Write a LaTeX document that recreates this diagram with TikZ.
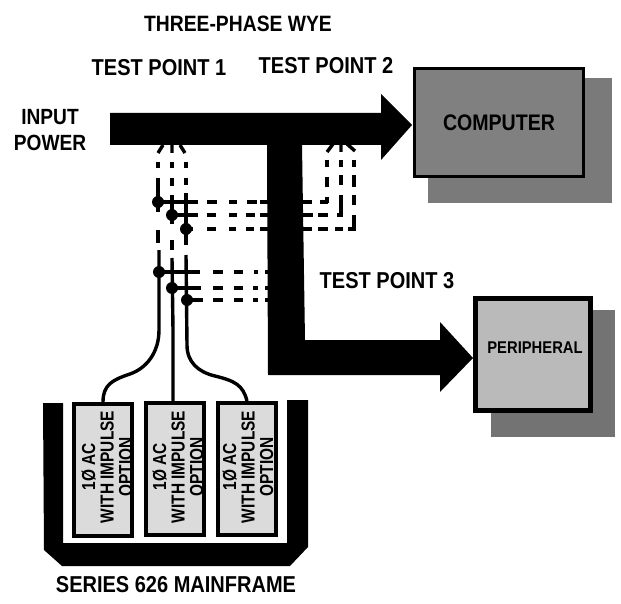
\documentclass[tikz,border=0pt]{standalone}
\usepackage{fontspec}
\setmainfont{Liberation Sans}
\newfontfamily\lblfont[FakeStretch=0.87]{Liberation Sans Bold}
\newfontfamily\modfont[FakeStretch=0.82]{Liberation Sans Bold}
\begin{document}
\begin{tikzpicture}[x=1pt,y=-1pt,
  lab/.style={font=\lblfont\fontsize{23}{23}\selectfont,inner sep=0pt,align=center},
  wire/.style={line width=3.4pt,black},
  junction/.style={circle,fill=black,inner sep=0pt,minimum size=12pt},
  module/.style={draw=black,line width=4pt,fill=black!14,minimum width=58pt,minimum height=132pt,inner sep=0pt},
  modtext/.style={rotate=90,font=\modfont\fontsize{18.8}{18.5}\selectfont,align=center,inner sep=0pt}]
\useasboundingbox (0,0) rectangle (621,604);
\fill[white] (0,0) rectangle (621,604);
% shadows
\fill[black!52] (428,78) rectangle (612,203);
\fill[black!55] (491,310) rectangle (615,437);
% boxes
\node[draw=black,line width=3.5pt,fill=black!50,minimum width=169pt,minimum height=108pt,inner sep=0pt,
  font=\lblfont\fontsize{22.5}{23}\selectfont] (computer) at (499,122.5) {COMPUTER};
\node[draw=black,line width=5pt,fill=black!27,minimum width=115pt,minimum height=112pt,inner sep=0pt] (periph) at (533,354.5) {};
\node[font=\lblfont\fontsize{17}{17}\selectfont,inner sep=0pt] (periphlab) at (535,348) {PERIPHERAL};
% block arrows
\fill[black] (110,113) -- (381,113) -- (381,94) -- (412,125) -- (381,160) -- (381,145) -- (302,145)
  -- (305,340) -- (440,340) -- (440,322) -- (473,358) -- (440,392) -- (440,375) -- (268,375) -- (267,145) -- (110,145) -- cycle;
% junctions
\coordinate (ja1) at (158,202); \coordinate (jb1) at (172,215); \coordinate (jc1) at (186,229);
\coordinate (ja2) at (159,272); \coordinate (jb2) at (172,288); \coordinate (jc2) at (187,300);
% fans into the main line
\draw[wire] (158,153) -- (163,145) (172,153) -- (172,145) (185,153) -- (180,145);
\draw[wire] (327,152) -- (333,144) (341,152) -- (341,144) (355,151) -- (347,144);
% broken verticals, test point 1
\foreach \x/\a/\b in {158/162/168,158/178/212,158/230/243,
                      172/162/168,172/178/186,172/195/224,172/240/250,
                      186/162/168,186/178/185,186/193/245,
                      327/160/167,327/177/187,327/197/203,
                      341/160/167,341/175/185,341/195/215,
                      354/160/167,354/175/187,354/195/205,354/215/230}
  {\draw[wire] (\x,\a) -- (\x,\b);}
% broken horizontals
\foreach \y/\a/\b in {202/158/198,202/207/217,202/229/237,202/247/257,202/260/268,
                      215/172/198,215/207/216,215/229/237,215/246/255,215/260/268,
                      229/186/193,229/207/216,229/229/236,229/246/254,229/260/268,
                      272/159/200,272/213/223,272/234/243,272/254/258,272/265/268,
                      288/172/201,288/213/223,288/234/243,288/253/258,288/265/268,
                      300/187/203,300/213/223,300/234/243,300/253/258,300/265/268,
                      202/302/312,202/320/328,
                      215/302/313,215/318/328,215/337/343,
                      229/302/312,229/318/328,229/335/343,229/348/356}
  {\draw[wire] (\a,\y) -- (\b,\y);}
% solid runs down to the modules
\node[module] (m1) at (103,470) {};
\node[module] (m2) at (175,469) {};
\node[module] (m3) at (247,469) {};
\draw[wire] (159,250) -- (159,330) .. controls (159,352) and (147,368) .. (130,374)
  .. controls (112,380) and (103,385) .. (m1.north);
\draw[wire] (172,258) -- (173,330) -- (173,403);
\draw[wire] (186,255) -- (187,345) .. controls (187,362) and (198,372) .. (215,376)
  .. controls (235,381) and (243,385) .. (m3.north);
% junction dots
\foreach \j in {ja1,jb1,jc1,ja2,jb2,jc2}{\node[junction] (n\j) at (\j) {};}
% tray
\fill[black] (43,403) -- (63,403) -- (63,543) -- (287,543) -- (287,400) -- (308,400) -- (308,547)
  -- (290,566) -- (62,566) -- (44,550) -- cycle;
\node[modtext] (t1) at (107,467) {1Ø AC\\WITH IMPULSE\\OPTION};
\node[modtext] (t2) at (178,467) {1Ø AC\\WITH IMPULSE\\OPTION};
\node[modtext] (t3) at (248,467) {1Ø AC\\WITH IMPULSE\\OPTION};
% labels
\node[lab,font=\lblfont\fontsize{22.2}{23}\selectfont] (title) at (238,24) {THREE-PHASE WYE};
\node[lab] (tp1) at (159,68) {TEST POINT 1};
\node[lab] (tp2) at (326,66) {TEST POINT 2};
\node[lab] (tp3) at (387,281) {TEST POINT 3};
\node[lab,font=\lblfont\fontsize{22}{26}\selectfont] (input) at (50,130) {INPUT\\POWER};
\node[lab] (series) at (176,585) {SERIES 626 MAINFRAME};
\end{tikzpicture}
\end{document}
